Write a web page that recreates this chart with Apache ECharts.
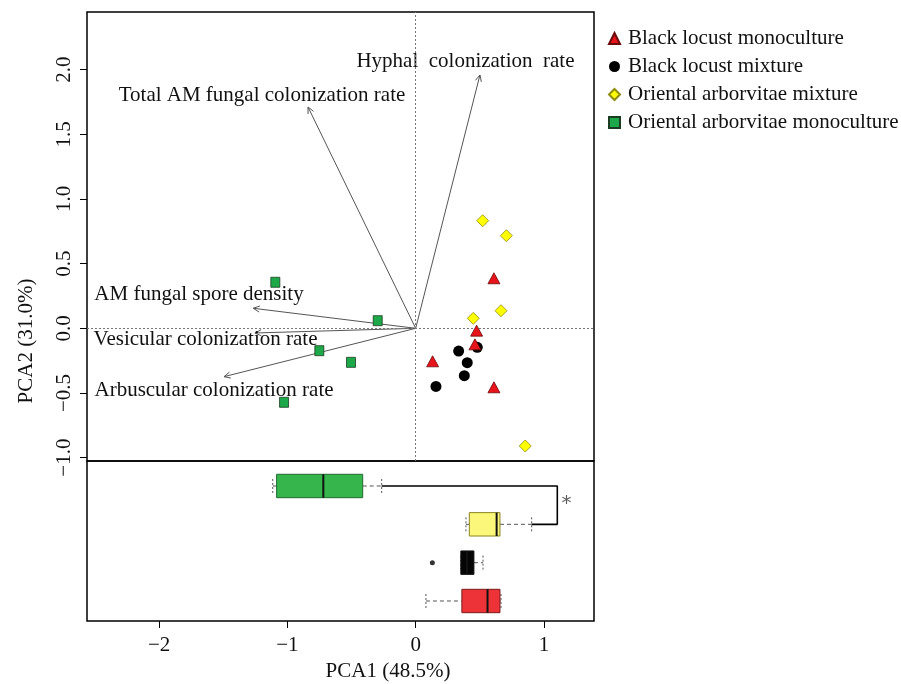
<!DOCTYPE html>
<html><head><meta charset="utf-8">
<script src="https://cdn.jsdelivr.net/npm/echarts@6/dist/echarts.min.js"></script>
<style>html,body{margin:0;padding:0;background:#fff}#c{width:901px;height:684px}</style>
</head><body><div id="c"></div>
<script>
// ---- data ----
const seriesNames = ['Black locust monoculture','Black locust mixture','Oriental arborvitae mixture','Oriental arborvitae monoculture'];
const blackLocustMono = [[0.610,0.387],[0.475,-0.018],[0.462,-0.124],[0.132,-0.255],[0.610,-0.456]];
const blackLocustMix = [[0.335,-0.176],[0.480,-0.147],[0.402,-0.266],[0.379,-0.366],[0.158,-0.449]];
const orientalMix = [[0.522,0.832],[0.707,0.716],[0.665,0.136],[0.449,0.077],[0.854,-0.910]];
const orientalMono = [[-1.094,0.356],[-0.296,0.059],[-0.751,-0.173],[-0.504,-0.263],[-1.026,-0.572]];

const vectorNames = ['Hyphal  colonization  rate','Total AM fungal colonization rate','AM fungal spore density','Vesicular colonization rate','Arbuscular colonization rate'];
const vectorTips = [[0.501,1.959],[-0.839,1.711],[-1.266,0.155],[-1.253,-0.036],[-1.494,-0.374]];
const vectorLabelAt = [[0.388,2.067],[-1.198,1.804],[-1.689,0.258],[-1.638,-0.090],[-1.572,-0.477]];

// boxplot rows: [position, lowWhisker, Q1, median, Q3, highWhisker]
const boxStats = [
  [1, 0.080, 0.360, 0.560, 0.657, 0.665],   // Black locust monoculture
  [2, 0.352, 0.352, 0.400, 0.454, 0.525],   // Black locust mixture
  [3, 0.392, 0.418, 0.631, 0.657, 0.904],   // Oriental arborvitae mixture
  [4, -1.114, -1.084, -0.720, -0.413, -0.265] // Oriental arborvitae monoculture
];
const boxOutliers = [[0.130, 2]];
const bracket = [[-0.265,4],[1.104,4],[1.104,3],[0.904,3]];
const starAt = [[1.175,3.53]];
const xTicks = [-2,-1,0,1];
const yTicks = [-1,-0.5,0,0.5,1,1.5,2];

// ---- styles ----
const FONT = 'Liberation Serif';
const boxFill = ['#EE3338','#050505','#FAF77A','#35B54B'];
const boxStroke = ['#7a1a1a','#111','#8a8520','#1f6a30'];
const minus = s => String(s).replace('-', '\u2212');

const chart = echarts.init(document.getElementById('c'), null, {renderer:'canvas'});

function arrowItem(params, api){
  const o = api.coord([0,0]);
  const t = api.coord([api.value(0), api.value(1)]);
  const ang = Math.atan2(t[1]-o[1], t[0]-o[0]);
  const L = 7, a = 0.45;
  const h1 = [t[0]-L*Math.cos(ang-a), t[1]-L*Math.sin(ang-a)];
  const h2 = [t[0]-L*Math.cos(ang+a), t[1]-L*Math.sin(ang+a)];
  const st = {stroke:'#555', lineWidth:1, fill:null};
  return {type:'group', children:[
    {type:'line', shape:{x1:o[0],y1:o[1],x2:t[0],y2:t[1]}, style:st},
    {type:'polyline', shape:{points:[h1,t,h2]}, style:st}
  ]};
}
function labelItem(params, api){
  const p = api.coord([api.value(0), api.value(1)]);
  return {type:'text', x:p[0], y:p[1], style:{text:vectorNames[params.dataIndex], fontFamily:FONT, fontSize:21, fill:'#111', align:'center', verticalAlign:'middle'}};
}
function boxItem(params, api){
  const pos=api.value(0), lo=api.value(1), q1=api.value(2), md=api.value(3), q3=api.value(4), hi=api.value(5);
  const i = params.dataIndex;
  const c = api.coord([0,pos])[1];
  const h = api.size([0,0.61])[1];
  const X = v => api.coord([v,pos])[0];
  const xl=X(lo), x1=X(q1), xm=X(md), x3=X(q3), xh=X(hi);
  const ch = [];
  const ws = {stroke:'#555', lineWidth:1, lineDash:[4,3]};
  const ss = {stroke:'#555', lineWidth:1, lineDash:[2,2]};
  if (x1 - xl > 1) ch.push({type:'line', shape:{x1:xl,y1:c,x2:x1,y2:c}, style:ws});
  if (xh - x3 > 1) ch.push({type:'line', shape:{x1:x3,y1:c,x2:xh,y2:c}, style:ws});
  ch.push({type:'line', shape:{x1:xl,y1:c-h*0.3,x2:xl,y2:c+h*0.3}, style:ss});
  ch.push({type:'line', shape:{x1:xh,y1:c-h*0.3,x2:xh,y2:c+h*0.3}, style:ss});
  ch.push({type:'rect', shape:{x:x1,y:c-h/2,width:x3-x1,height:h}, style:{fill:boxFill[i], stroke:boxStroke[i], lineWidth:1}});
  ch.push({type:'line', shape:{x1:xm,y1:c-h/2,x2:xm,y2:c+h/2}, style:{stroke:'#111', lineWidth:2}});
  return {type:'group', children:ch};
}

const option = {
  animation:false,
  backgroundColor:'#fff',
  textStyle:{fontFamily:FONT},
  grid:[
    {left:87, top:12, width:507, height:449, show:true, borderColor:'#000', borderWidth:1.5, backgroundColor:'transparent'},
    {left:87, top:461, width:507, height:160, show:true, borderColor:'#000', borderWidth:1.5, backgroundColor:'transparent'}
  ],
  xAxis:[
    {type:'value', gridIndex:0, min:-2.562, max:1.39, show:true, axisLine:{show:false, onZero:false}, axisTick:{show:false}, axisLabel:{show:false}, splitLine:{show:false}},
    {type:'value', gridIndex:1, min:-2.562, max:1.39, position:'bottom', axisLine:{show:false, onZero:false},
      axisTick:{show:true, length:7, inside:false, customValues:xTicks, lineStyle:{color:'#000', width:1}},
      axisLabel:{show:true, customValues:xTicks, margin:14, fontFamily:FONT, fontSize:21, color:'#111', formatter:v=>minus(v)},
      splitLine:{show:false}}
  ],
  yAxis:[
    {type:'value', gridIndex:0, min:-1.026, max:2.446, position:'left', axisLine:{show:false, onZero:false},
      axisTick:{show:true, length:7, inside:false, customValues:yTicks, lineStyle:{color:'#000', width:1}},
      axisLabel:{show:true, customValues:yTicks, rotate:90, margin:12, fontFamily:FONT, fontSize:21, color:'#111', formatter:v=>minus(v.toFixed(1))},
      splitLine:{show:false}},
    {type:'value', gridIndex:1, min:0.478, max:4.652, show:false, axisLine:{onZero:false}, splitLine:{show:false}}
  ],
  legend:{
    orient:'vertical', left:603, top:23, itemWidth:11, itemHeight:11, itemGap:7,
    data:seriesNames,
    textStyle:{fontFamily:FONT, fontSize:21, color:'#111', padding:[0,0,0,3]}
  },
  graphic:[
    {type:'text', x:26, y:341, rotation:Math.PI/2, style:{text:'PCA2 (31.0%)', fontFamily:FONT, fontSize:21, fill:'#111', align:'center', verticalAlign:'middle'}},
    {type:'text', x:388, y:671, style:{text:'PCA1 (48.5%)', fontFamily:FONT, fontSize:21, fill:'#111', align:'center', verticalAlign:'middle'}}
  ],
  series:[
    {type:'custom', name:'vectors', xAxisIndex:0, yAxisIndex:0, renderItem:arrowItem, data:vectorTips, silent:true, z:2,
      markLine:{silent:true, symbol:'none', label:{show:false}, lineStyle:{type:[2,2], color:'#777', width:1},
        data:[{xAxis:0},{yAxis:0}]}},
    {type:'custom', name:'vectorLabels', xAxisIndex:0, yAxisIndex:0, renderItem:labelItem, data:vectorLabelAt, silent:true, z:3},
    {type:'scatter', name:seriesNames[3], xAxisIndex:0, yAxisIndex:0, data:orientalMono, symbol:'rect', symbolSize:[9,10],
      itemStyle:{color:'#1DA84A', borderColor:'#1a3d22', borderWidth:0.8, opacity:1}, z:4},
    {type:'scatter', name:seriesNames[2], xAxisIndex:0, yAxisIndex:0, data:orientalMix, symbol:'diamond', symbolSize:[12,12],
      itemStyle:{color:'#FFFF00', borderColor:'#8f8a10', borderWidth:0.8, opacity:1}, z:4},
    {type:'scatter', name:seriesNames[1], xAxisIndex:0, yAxisIndex:0, data:blackLocustMix, symbol:'circle', symbolSize:11,
      itemStyle:{color:'#000', opacity:1}, z:4},
    {type:'scatter', name:seriesNames[0], xAxisIndex:0, yAxisIndex:0, data:blackLocustMono, symbol:'triangle', symbolSize:[12,11],
      itemStyle:{color:'#E8141B', borderColor:'#6a0a0a', borderWidth:0.8, opacity:1}, z:5},
    {type:'custom', name:'boxes', xAxisIndex:1, yAxisIndex:1, renderItem:boxItem, data:boxStats, silent:true, z:3},
    {type:'scatter', name:'outliers', xAxisIndex:1, yAxisIndex:1, data:boxOutliers, symbol:'circle', symbolSize:5, itemStyle:{color:'#000'}, silent:true},
    {type:'line', name:'bracket', xAxisIndex:1, yAxisIndex:1, data:bracket, showSymbol:false, symbol:'none', lineStyle:{color:'#000', width:1.6}, silent:true, z:4},
    {type:'scatter', name:'star', xAxisIndex:1, yAxisIndex:1, data:starAt, symbolSize:0, silent:true,
      label:{show:true, position:'inside', formatter:'*', fontFamily:'DejaVu Sans', fontSize:20, color:'#333'}}
  ]
};
chart.setOption(option);
</script>
</body></html>
